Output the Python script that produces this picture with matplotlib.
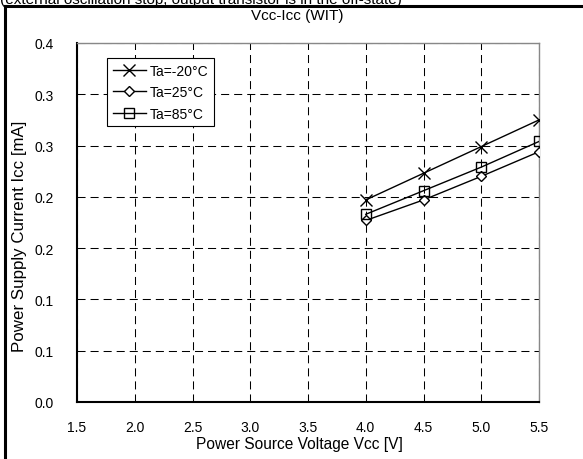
import matplotlib
matplotlib.use("Agg")
import matplotlib.pyplot as plt
from matplotlib.lines import Line2D

plt.rcParams['font.family'] = ['Liberation Sans', 'DejaVu Sans']
plt.rcParams['lines.scale_dashes'] = False

# ---- data ----
vcc = [4.0, 4.5, 5.0, 5.5]
icc_m20 = [0.197, 0.223, 0.249, 0.275]
icc_25 = [0.177, 0.197, 0.220, 0.244]
icc_85 = [0.183, 0.206, 0.229, 0.254]
series_labels = ["Ta=-20°C", "Ta=25°C", "Ta=85°C"]
x_ticks = [1.5, 2.0, 2.5, 3.0, 3.5, 4.0, 4.5, 5.0, 5.5]
x_ticklabels = ["1.5", "2.0", "2.5", "3.0", "3.5", "4.0", "4.5", "5.0", "5.5"]
y_ticks = [0.0, 0.05, 0.10, 0.15, 0.20, 0.25, 0.30, 0.35]
y_ticklabels = ["0.0", "0.1", "0.1", "0.2", "0.2", "0.3", "0.3", "0.4"]
title = "Vcc-Icc (WIT)"
top_note = "(external oscillation stop, output transistor is in the off-state)"
xlabel = "Power Source Voltage Vcc [V]"
ylabel = "Power Supply Current Icc [mA]"

W, H = 583, 460
x0, x1, y0, y1 = 77, 539, 403, 44
fig = plt.figure(figsize=(W / 100, H / 100), dpi=100)
ax = fig.add_axes([x0 / W, 1 - y0 / H, (x1 - x0) / W, (y0 - y1) / H])

ax.plot(vcc, icc_m20, color='black', lw=1.0, marker='x', ms=8, mew=1.0,
        label=series_labels[0], zorder=5)
ax.plot(vcc, icc_25, color='black', lw=1.0, marker='D', ms=5.6, mew=1.0,
        mfc='white', label=series_labels[1], zorder=4)
ax.plot(vcc, icc_85, color='black', lw=1.0, marker='s', ms=7.8, mew=1.0,
        mfc='none', label=series_labels[2], zorder=4)

ax.set_xlim(1.5, 5.5)
ax.set_ylim(0.0, 0.35)
ax.set_xticks(x_ticks)
ax.set_xticklabels(x_ticklabels)
ax.set_yticks(y_ticks)
ax.set_yticklabels(y_ticklabels)
ax.tick_params(length=0, labelsize=10, colors='black')
ax.tick_params(axis='y', pad=17)
ax.tick_params(axis='x', pad=13)

ax.grid(True, color='black', lw=0.75, linestyle=(0, (5.8, 3.6)))
ax.set_axisbelow(True)

for s in ['top', 'right']:
    ax.spines[s].set_color('#888888')
    ax.spines[s].set_linewidth(1.0)
for s in ['left', 'bottom']:
    ax.spines[s].set_color('black')
    ax.spines[s].set_linewidth(1.5)

ax.set_xlabel(xlabel, fontsize=11.2)
ax.set_ylabel(ylabel, fontsize=12.2)
ax.xaxis.set_label_coords((299 - x0) / (x1 - x0), -(444 - y0) / (y0 - y1))
ax.yaxis.set_label_coords(-(x0 - 20) / (x1 - x0), (y0 - 236) / (y0 - y1))
ax.xaxis.label.set_va('center')
ax.yaxis.label.set_va('center')

leg = ax.legend(loc='upper left', bbox_to_anchor=((107 - x0) / (x1 - x0), 1 - (59 - y1) / (y0 - y1)),
                fontsize=10, frameon=True, fancybox=False, edgecolor='black',
                framealpha=1, handlelength=2.4, handletextpad=0.3,
                borderpad=0.4, labelspacing=0.55, borderaxespad=0)
leg.get_frame().set_linewidth(0.8)

fig.text(297 / W, 1 - 16 / H, title, ha='center', va='center', fontsize=11)
fig.text(0, 1 - 4 / H, top_note, ha='left', va='baseline', fontsize=11)

# outer frame (left and top edges visible)
fig.add_artist(Line2D([4.5 / W, 4.5 / W], [0, 1 - 7 / H], transform=fig.transFigure,
                      color='black', lw=2.2, solid_capstyle='projecting'))
fig.add_artist(Line2D([4.5 / W, 1], [1 - 7 / H, 1 - 7 / H], transform=fig.transFigure,
                      color='black', lw=2.2, solid_capstyle='projecting'))

fig.savefig('out.png', dpi=100)
